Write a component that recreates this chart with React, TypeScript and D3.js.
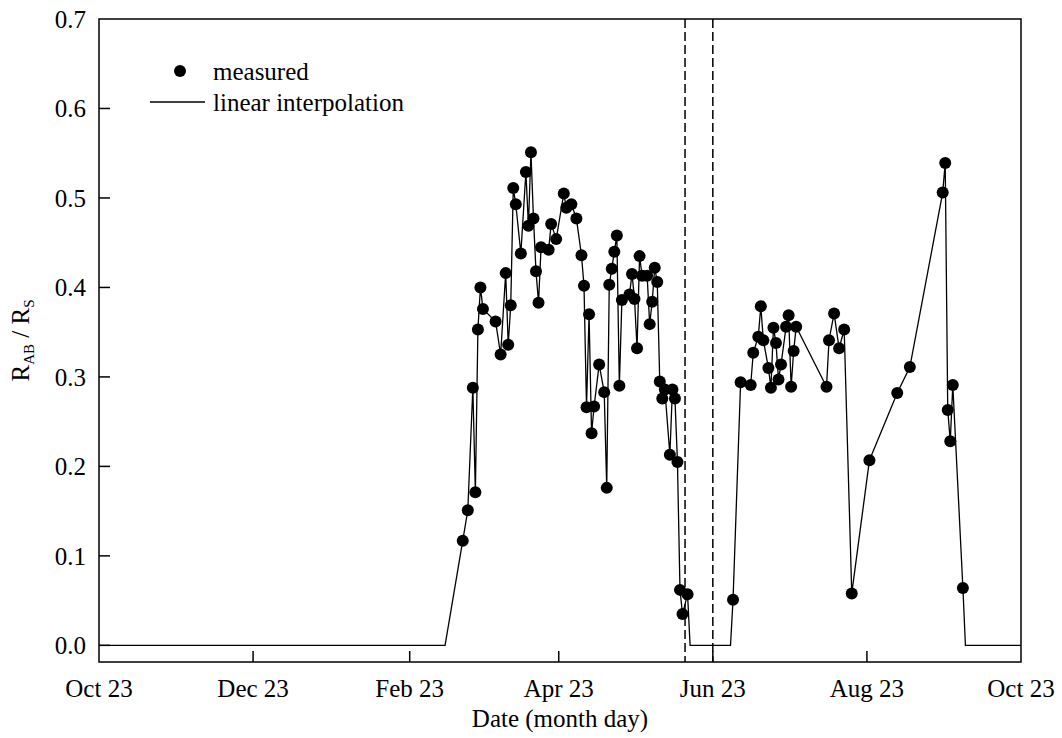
import React from 'react';
import * as d3 from 'd3';

// measured ratio of above-canopy radiation (R_AB / R_S)
const measuredDates = [
  '2023-03-16', '2023-03-18', '2023-03-20', '2023-03-21', '2023-03-22', '2023-03-23',
  '2023-03-24', '2023-03-29', '2023-03-31', '2023-04-02', '2023-04-03', '2023-04-04',
  '2023-04-05', '2023-04-06', '2023-04-08', '2023-04-10', '2023-04-11', '2023-04-12',
  '2023-04-13', '2023-04-14', '2023-04-15', '2023-04-16', '2023-04-19', '2023-04-20',
  '2023-04-22', '2023-04-25', '2023-04-26', '2023-04-28', '2023-04-30', '2023-05-02',
  '2023-05-03', '2023-05-04', '2023-05-05', '2023-05-06', '2023-05-07', '2023-05-09',
  '2023-05-11', '2023-05-12', '2023-05-13', '2023-05-14', '2023-05-15', '2023-05-16',
  '2023-05-17', '2023-05-18', '2023-05-21', '2023-05-22', '2023-05-23', '2023-05-24',
  '2023-05-25', '2023-05-26', '2023-05-28', '2023-05-29', '2023-05-30', '2023-05-31',
  '2023-06-01', '2023-06-02', '2023-06-03', '2023-06-04', '2023-06-06', '2023-06-07',
  '2023-06-08', '2023-06-09', '2023-06-10', '2023-06-11', '2023-06-13',
  '2023-07-01', '2023-07-04', '2023-07-08', '2023-07-09', '2023-07-11', '2023-07-12',
  '2023-07-13', '2023-07-15', '2023-07-16', '2023-07-17', '2023-07-18', '2023-07-19',
  '2023-07-20', '2023-07-22', '2023-07-23', '2023-07-24', '2023-07-25', '2023-07-26',
  '2023-08-07', '2023-08-08', '2023-08-10', '2023-08-12', '2023-08-14', '2023-08-17',
  '2023-08-24', '2023-09-04', '2023-09-09', '2023-09-22', '2023-09-23', '2023-09-24',
  '2023-09-25', '2023-09-26', '2023-09-30',
];
const measuredValues = [
  0.117, 0.151, 0.288, 0.171, 0.353, 0.400,
  0.376, 0.362, 0.325, 0.416, 0.336, 0.380,
  0.511, 0.493, 0.438, 0.529, 0.469, 0.551,
  0.477, 0.418, 0.383, 0.445, 0.442, 0.471,
  0.454, 0.505, 0.489, 0.493, 0.477, 0.436,
  0.402, 0.266, 0.370, 0.237, 0.267, 0.314,
  0.283, 0.176, 0.403, 0.421, 0.440, 0.458,
  0.290, 0.386, 0.392, 0.415, 0.387, 0.332,
  0.435, 0.413, 0.413, 0.359, 0.384, 0.422,
  0.406, 0.295, 0.276, 0.286, 0.213, 0.286,
  0.276, 0.205, 0.062, 0.035, 0.057,
  0.051, 0.294, 0.291, 0.327, 0.345, 0.379,
  0.341, 0.310, 0.288, 0.355, 0.338, 0.297,
  0.314, 0.356, 0.369, 0.289, 0.329, 0.356,
  0.289, 0.341, 0.371, 0.332, 0.353, 0.058,
  0.207, 0.282, 0.311, 0.506, 0.539, 0.263,
  0.228, 0.291, 0.064,
];

// zero-valued anchors of the interpolated line (outside measuring periods)
const zeroDates = ['2022-10-23', '2023-03-09', '2023-06-14', '2023-06-30', '2023-10-01', '2023-10-23'];

// dashed markers
const markerDates = ['2023-06-12', '2023-06-23'];

const xTickDates = ['2022-10-23', '2022-12-23', '2023-02-23', '2023-04-23', '2023-06-23', '2023-08-23', '2023-10-23'];
const xTickLabels = ['Oct 23', 'Dec 23', 'Feb 23', 'Apr 23', 'Jun 23', 'Aug 23', 'Oct 23'];
const yTicks = [0, 0.1, 0.2, 0.3, 0.4, 0.5, 0.6, 0.7];

const W = 1062;
const H = 738;
const left = 99;
const right = 1021;
const top = 19;
const bottom = 662;
const font = '"Liberation Serif", "Times New Roman", serif';

const parse = d3.utcParse('%Y-%m-%d');

const App = () => {
  const x = d3
    .scaleUtc()
    .domain([parse(xTickDates[0])!, parse(xTickDates[xTickDates.length - 1])!])
    .range([left, right]);
  const y = d3.scaleLinear().domain([-0.0186, 0.7]).range([bottom, top]);

  const measured = measuredDates.map((d, i) => ({ date: parse(d)!, value: measuredValues[i] }));
  const lineData = measured
    .concat(zeroDates.map(d => ({ date: parse(d)!, value: 0 })))
    .sort((a, b) => a.date.getTime() - b.date.getTime());

  const line = d3
    .line<{ date: Date; value: number }>()
    .x(d => x(d.date))
    .y(d => y(d.value));

  return (
    <div style={{ position: 'absolute', left: 0, top: 0 }}>
      <svg width={W} height={H} style={{ display: 'block', background: '#fff' }} fontFamily={font}>
        {/* frame */}
        <rect x={left} y={top} width={right - left} height={bottom - top} fill="none" stroke="#000" strokeWidth={1.5} />

        {/* y ticks */}
        {yTicks.map(t => (
          <g key={t}>
            {t < 0.7 && <line x1={left} x2={left + 11} y1={y(t)} y2={y(t)} stroke="#000" strokeWidth={1.5} />}
            <text x={left - 13} y={y(t)} dy="0.35em" textAnchor="end" fontSize={25}>
              {t.toFixed(1)}
            </text>
          </g>
        ))}

        {/* x ticks */}
        {xTickDates.map((d, i) => (
          <g key={i}>
            {i > 0 && i < xTickDates.length - 1 && (
              <line x1={x(parse(d)!)} x2={x(parse(d)!)} y1={bottom} y2={bottom - 11} stroke="#000" strokeWidth={1.5} />
            )}
            <text x={x(parse(d)!)} y={697} textAnchor="middle" fontSize={25}>
              {xTickLabels[i]}
            </text>
          </g>
        ))}

        {/* dashed markers */}
        {markerDates.map(d => (
          <line
            key={d}
            x1={x(parse(d)!)}
            x2={x(parse(d)!)}
            y1={top}
            y2={bottom}
            stroke="#000"
            strokeWidth={1.5}
            strokeDasharray="9,4"
          />
        ))}

        <path d={line(lineData) ?? ''} fill="none" stroke="#000" strokeWidth={1.3} />

        {measured.map((d, i) => (
          <circle key={i} cx={x(d.date)} cy={y(d.value)} r={6} fill="#000" />
        ))}

        {/* legend */}
        <circle cx={180} cy={71} r={6} fill="#000" />
        <text x={213} y={71} dy="0.35em" fontSize={25}>measured</text>
        <line x1={150} x2={205} y1={102} y2={102} stroke="#000" strokeWidth={1.3} />
        <text x={213} y={102} dy="0.35em" fontSize={25}>linear interpolation</text>

        {/* axis titles */}
        <text x={(left + right) / 2} y={727} textAnchor="middle" fontSize={25}>
          Date (month day)
        </text>
        <text transform={`translate(29, ${(top + bottom) / 2}) rotate(-90)`} textAnchor="middle" fontSize={25}>
          R<tspan fontSize={15} dy={5}>AB</tspan>
          <tspan dy={-5}> / R</tspan>
          <tspan fontSize={15} dy={5}>S</tspan>
        </text>
      </svg>
    </div>
  );
};

export default App;
